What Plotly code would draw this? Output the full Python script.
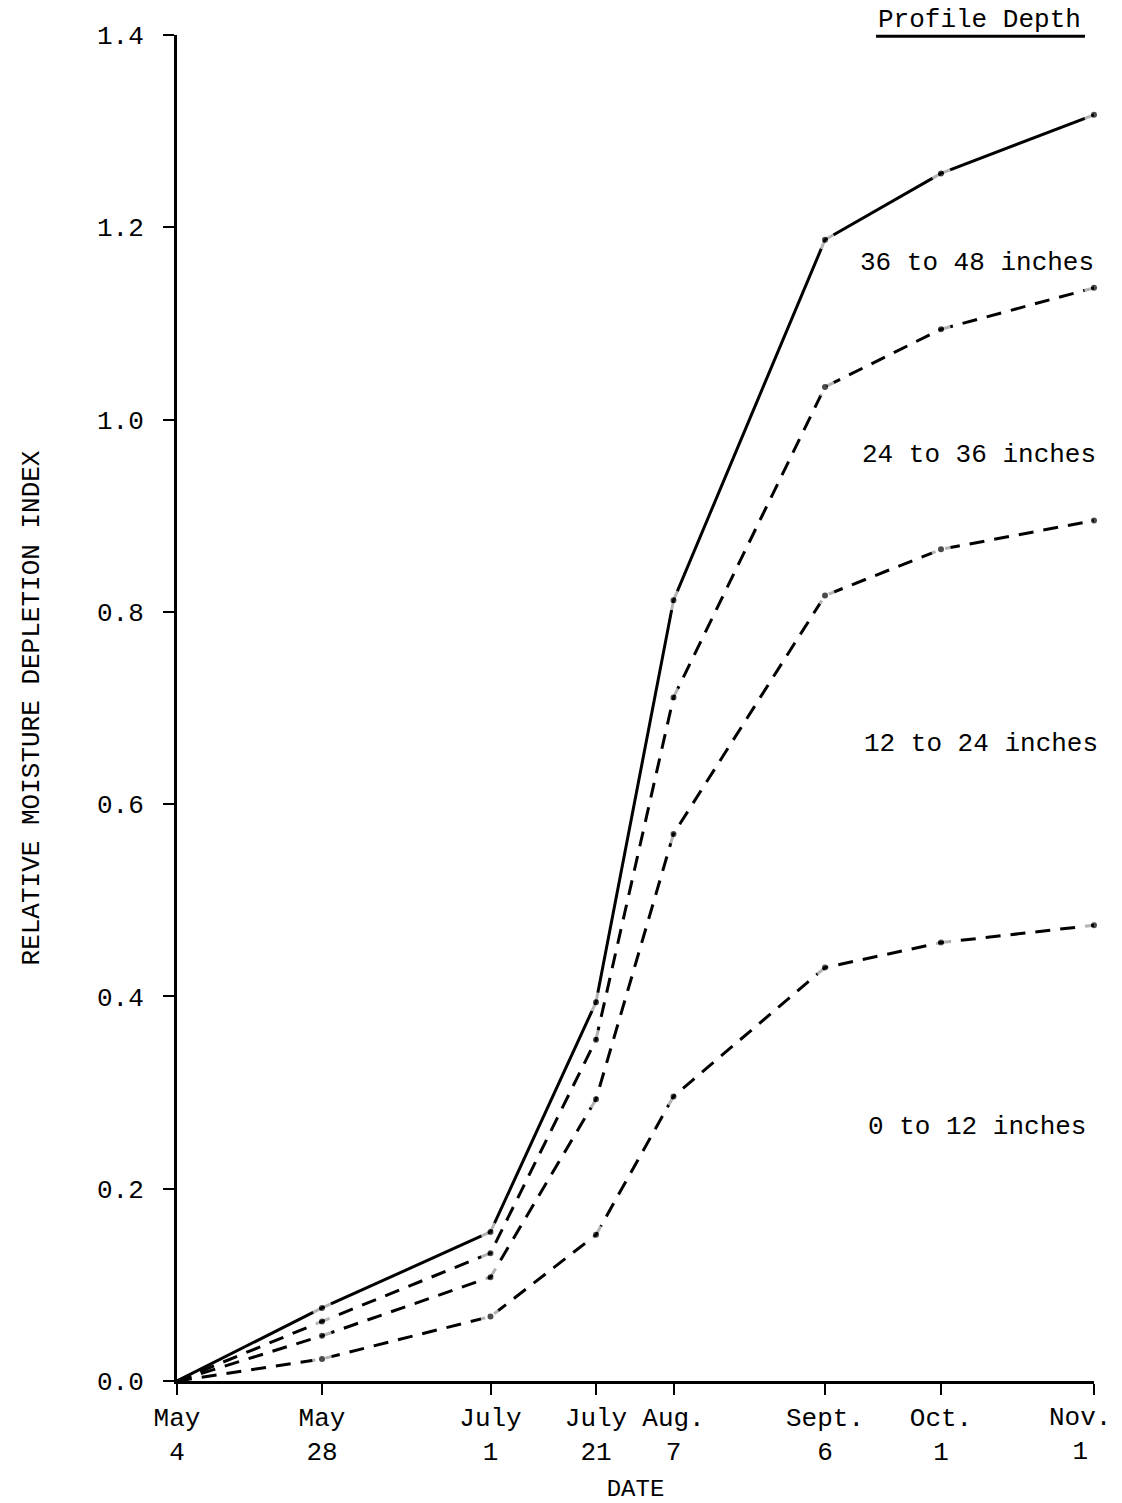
import plotly.graph_objects as go

# Sampling dates and their positions along the date axis
date_labels = ["May<br>4", "May<br>28", "July<br>1", "July<br>21",
               "Aug.<br>7", "Sept.<br>6", "Oct.<br>1", "Nov.<br>1"]
date_pos = [0, 145, 313.5, 419, 496.5, 648, 764, 917]

# Relative moisture depletion index by profile depth
depth_36_48 = [0, 0.076, 0.155, 0.394, 0.812, 1.187, 1.256, 1.317]
depth_24_36 = [0, 0.062, 0.133, 0.355, 0.711, 1.034, 1.094, 1.137]
depth_12_24 = [0, 0.047, 0.108, 0.293, 0.569, 0.817, 0.865, 0.895]
depth_0_12 = [0, 0.023, 0.067, 0.152, 0.296, 0.430, 0.456, 0.474]

series_names = ["36 to 48 inches", "24 to 36 inches", "12 to 24 inches", "0 to 12 inches"]
series_values = [depth_36_48, depth_24_36, depth_12_24, depth_0_12]
series_dash = ["solid", "15px,10px", "15px,10px", "15px,10px"]

y_ticks = [0.0, 0.2, 0.4, 0.6, 0.8, 1.0, 1.2, 1.4]

FONT = "Liberation Mono, DejaVu Sans Mono, monospace"

fig = go.Figure()
for name, vals, dash in zip(series_names, series_values, series_dash):
    # small dot at each observation, set off from the line by a white ring
    sizes = [0] + [13] * (len(vals) - 1)
    fig.add_trace(go.Scatter(
        x=date_pos, y=vals, name=name, mode="lines+markers",
        line=dict(color="black", width=3, dash=dash),
        marker=dict(size=sizes, color="black",
                    line=dict(color="white", width=7)),
        cliponaxis=False, showlegend=False,
    ))

# Depth labels to the right of each curve
label_pos = [(681, 1.163), (683, 0.963), (685, 0.6626), (689, 0.2642)]
for name, (lx, ly) in zip(series_names, label_pos):
    fig.add_annotation(x=lx, y=ly, xref="x", yref="y", text=name,
                       showarrow=False, xanchor="left", yanchor="middle",
                       font=dict(family=FONT, size=26, color="black"))

fig.add_annotation(x=0.7623, y=1.0115, xref="paper", yref="paper",
                   text="Profile Depth", showarrow=False,
                   xanchor="left", yanchor="middle",
                   font=dict(family=FONT, size=26, color="black"))
fig.add_shape(type="line", xref="paper", yref="paper",
              x0=0.7623, x1=0.9902, y0=0.9990, y1=0.9990,
              line=dict(color="black", width=3))

# The last date label sits at the right edge, so it is pulled in to stay on the page
fig.add_annotation(x=date_pos[-1], y=0, xref="x", yref="paper",
                   text=date_labels[-1], showarrow=False,
                   xanchor="center", yanchor="top", xshift=-14, yshift=-20,
                   font=dict(family=FONT, size=26, color="black"))
axis_labels = date_labels[:-1] + [""]

fig.update_layout(
    width=1122, height=1503,
    margin=dict(l=177, r=28, t=35, b=122),
    paper_bgcolor="white", plot_bgcolor="white",
    font=dict(family=FONT, size=26, color="black"),
    xaxis=dict(
        range=[0, 917], tickmode="array", tickvals=date_pos, ticktext=axis_labels,
        showgrid=False, zeroline=False, showline=True, linecolor="black", linewidth=3,
        ticks="outside", ticklen=11, tickwidth=2, tickcolor="black",
        automargin=False,
        title=dict(text="DATE", standoff=19, font=dict(family=FONT, size=24)),
    ),
    yaxis=dict(
        range=[0, 1.4], tickmode="array", tickvals=y_ticks,
        ticktext=[f"{v:.1f}" for v in y_ticks],
        showgrid=False, zeroline=False, showline=True, linecolor="black", linewidth=3,
        ticks="outside", ticklen=11, tickwidth=2, tickcolor="black",
        ticklabelstandoff=14, automargin=False,
        title=dict(text="RELATIVE MOISTURE DEPLETION INDEX", standoff=50,
                   font=dict(family=FONT, size=26)),
    ),
)

fig.write_html("out.html")
